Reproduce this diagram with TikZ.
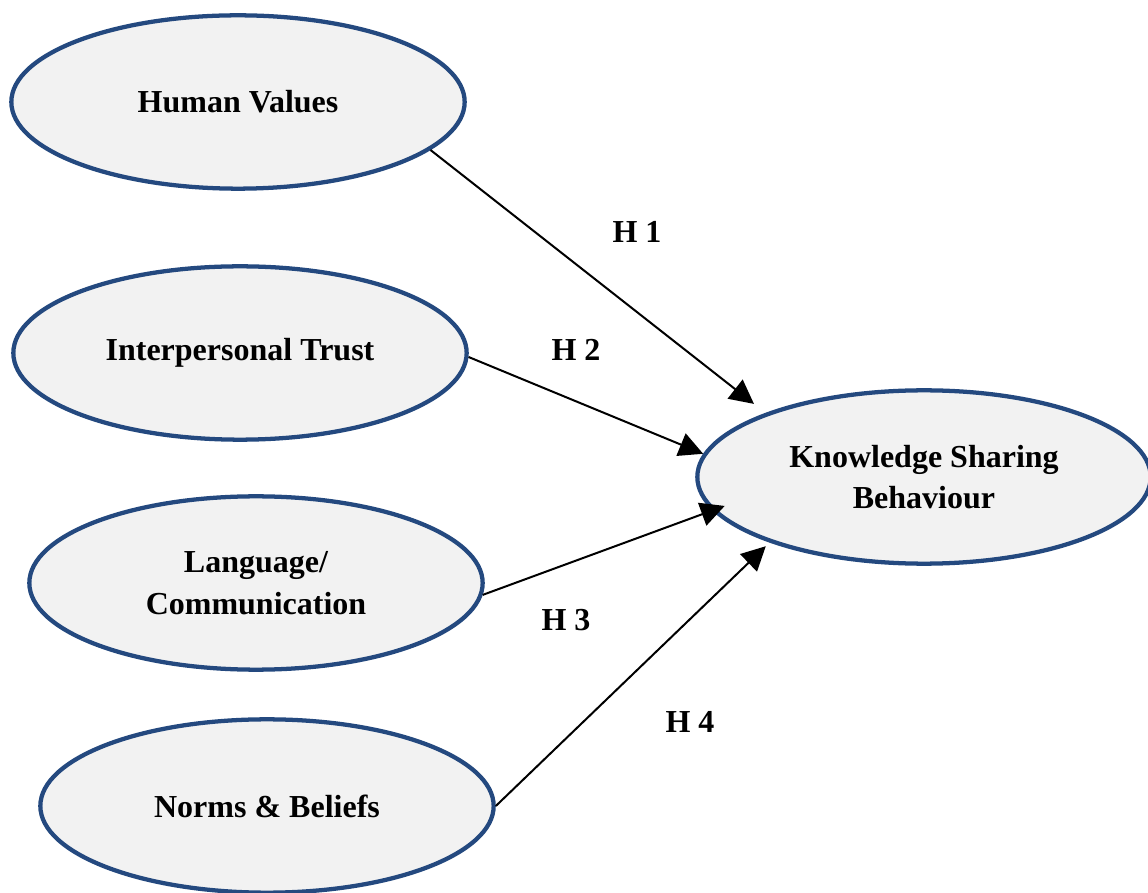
\documentclass[tikz,border=0pt]{standalone}
\usepackage{fontspec}
\setmainfont{Liberation Serif}
\usetikzlibrary{positioning, arrows.meta, shapes.geometric}
\definecolor{Navy}{HTML}{24497F}
\definecolor{Mist}{HTML}{F2F2F2}

\begin{document}
\begin{tikzpicture}[
    x=0.375pt, y=-0.375pt,
    construct/.style={ellipse, draw=Navy, line width=1.6pt, fill=Mist, minimum width=170pt, minimum height=65pt, inner sep=0pt, align=center, font=\fontsize{12}{15.6}\selectfont\bfseries},
    hyp/.style={font=\fontsize{12}{14}\selectfont\bfseries},
    link/.style={line width=0.75pt, -{Triangle[length=9pt, width=9pt]}}
]
\useasboundingbox (0,0) rectangle (1148,893);

% Constructs
\node[construct] (hv) at (238,102) {Human Values};
\node[construct] (it) at (240,353) {Interpersonal Trust};
\node[construct] (lc) at (256,583) {Language/\\Communication};
\node[construct] (nb) at (267,806) {Norms \& Beliefs};
\node[construct] (ksb) at (924,477) {Knowledge Sharing\\Behaviour};

% Hypotheses
\draw[link, shorten >=5.5pt] (hv.-14) -- (ksb.158);
\draw[link] (it.-1) -- (ksb.174);
\draw[link, shorten >=-5pt] (lc.-3) -- (ksb.189);
\draw[link, shorten >=2pt] (nb.0) -- (ksb.203);

\node[hyp] (h1) at (637,232) {H 1};
\node[hyp] (h2) at (576,350) {H 2};
\node[hyp] (h3) at (566,620) {H 3};
\node[hyp] (h4) at (690,722) {H 4};

\end{tikzpicture}
\end{document}
